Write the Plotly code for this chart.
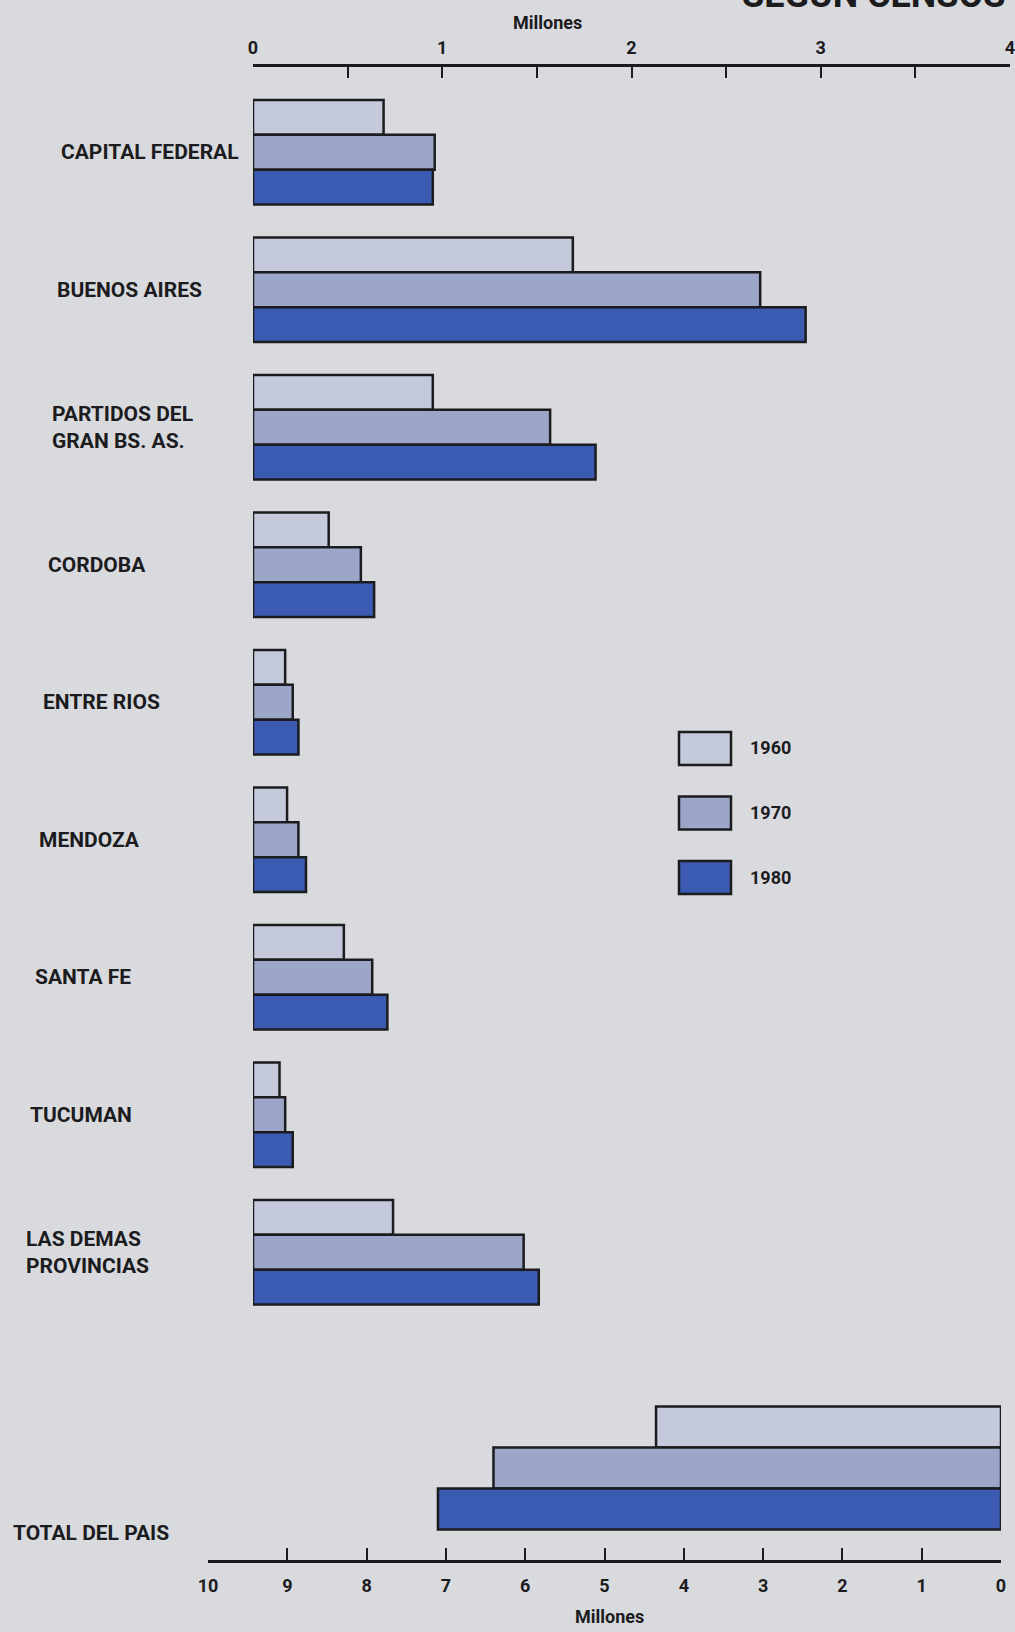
import plotly.graph_objects as go
from plotly.subplots import make_subplots

# --- data (millones) ---
regiones = ["CAPITAL FEDERAL", "BUENOS AIRES", "PARTIDOS DEL<br>GRAN BS. AS.", "CORDOBA",
            "ENTRE RIOS", "MENDOZA", "SANTA FE", "TUCUMAN", "LAS DEMAS<br>PROVINCIAS"]
anios = ["1960", "1970", "1980"]
v1960 = [0.69, 1.69, 0.95, 0.40, 0.17, 0.18, 0.48, 0.14, 0.74]
v1970 = [0.96, 2.68, 1.57, 0.57, 0.21, 0.24, 0.63, 0.17, 1.43]
v1980 = [0.95, 2.92, 1.81, 0.64, 0.24, 0.28, 0.71, 0.21, 1.51]
total_label = "TOTAL DEL PAIS"
total = [4.35, 6.4, 7.1]  # 1960, 1970, 1980

top_ticks = [0, 0.5, 1, 1.5, 2, 2.5, 3, 3.5, 4]
bottom_ticks = [0, 1, 2, 3, 4, 5, 6, 7, 8, 9, 10]

colores = ["#c4c9dc", "#9ba6c8", "#3a5bb1"]
bg = "#d8dade"
ink = "#1c1c1e"
FONT = "Roboto, Liberation Sans, sans-serif"
W, H = 1015, 1632

fig = make_subplots(rows=2, cols=1)
series = [v1960, v1970, v1980]
for anio, vals, col in zip(anios, series, colores):
    fig.add_trace(go.Bar(y=regiones, x=vals, orientation="h", name=anio,
                         marker=dict(color=col, line=dict(color=ink, width=2.5)),
                         showlegend=False, hoverinfo="skip"), row=1, col=1)
for anio, val, col in zip(anios, total, colores):
    fig.add_trace(go.Bar(y=[total_label], x=[val], orientation="h", name=anio,
                         marker=dict(color=col, line=dict(color=ink, width=2.5)),
                         showlegend=False, hoverinfo="skip"), row=2, col=1)

tick_font = dict(family=FONT, size=18, color=ink, weight="bold")
fig.update_layout(
    width=W, height=H, margin=dict(l=0, r=0, t=0, b=0),
    paper_bgcolor=bg, plot_bgcolor=bg, barmode="group", bargap=0.24, bargroupgap=0,
    font=dict(family=FONT, color=ink),
    xaxis=dict(domain=[253 / W, 1010 / W], range=[0, 4], side="top", anchor="y", automargin=False,
               showgrid=False, zeroline=False, showline=True, linecolor=ink, linewidth=2.5,
               ticks="inside", ticklen=11, tickwidth=2, tickcolor=ink, ticklabeloverflow="allow",
               ticklabelstandoff=3,
               tickvals=top_ticks, ticktext=[str(int(t)) if t == int(t) else "" for t in top_ticks],
               tickfont=tick_font),
    yaxis=dict(domain=[1 - 1321 / H, 1 - 67 / H], range=[8.5, -0.62], showticklabels=False,
               automargin=False, showgrid=False, zeroline=False, showline=False, ticks=""),
    xaxis2=dict(domain=[208 / W, 1001 / W], range=[10, 0], side="bottom", anchor="y2", automargin=False,
                showgrid=False, zeroline=False, showline=True, linecolor=ink, linewidth=2.5,
                ticks="inside", ticklen=12, tickwidth=2, tickcolor=ink, ticklabeloverflow="allow",
                ticklabelstandoff=8,
                tickvals=bottom_ticks, tickfont=tick_font),
    yaxis2=dict(domain=[1 - 1560 / H, 1 - 1380 / H], range=[0.568, -0.543], showticklabels=False,
                automargin=False, showgrid=False, zeroline=False, showline=False, ticks=""),
)

label_font = dict(family=FONT, size=21, color=ink, weight="bold")
# etiquetas de regiones (ligeramente escalonadas como en la impresion)
for i, r in enumerate(regiones):
    fig.add_annotation(x=0.058 - i * 0.0043, y=r, xref="paper", yref="y", text=r,
                       showarrow=False, xanchor="left", yanchor="middle", align="left",
                       font=label_font)
fig.add_annotation(x=11 / W, y=1 - 1533 / H, xref="paper", yref="paper", text=total_label,
                   showarrow=False, xanchor="left", yanchor="middle", font=label_font)

# titulos de ejes
fig.add_annotation(x=547 / W, y=1 - 23 / H, xref="paper", yref="paper", text="Millones",
                   showarrow=False, xanchor="center", yanchor="middle",
                   font=dict(family=FONT, size=18, color=ink, weight="bold"))
fig.add_annotation(x=609 / W, y=1 - 1616 / H, xref="paper", yref="paper", text="Millones",
                   showarrow=False, xanchor="center", yanchor="middle",
                   font=dict(family=FONT, size=18, color=ink, weight="bold"))
# titulo cortado arriba a la derecha
fig.add_annotation(x=1007 / W, y=1.0, xref="paper", yref="paper", text="SEGUN CENSOS",
                   showarrow=False, xanchor="right", yanchor="bottom", yshift=-18,
                   font=dict(family=FONT, size=36, color=ink, weight="bold"))

# leyenda manual
for k, (anio, col) in enumerate(zip(anios, colores)):
    y0 = 732 + k * 64.5
    fig.add_shape(type="rect", xref="paper", yref="paper",
                  x0=679 / W, x1=731 / W, y0=1 - (y0 + 33) / H, y1=1 - y0 / H,
                  fillcolor=col, line=dict(color=ink, width=2.5))
    fig.add_annotation(x=748 / W, y=1 - (y0 + 16) / H, xref="paper", yref="paper",
                       text=anio, showarrow=False, xanchor="left", yanchor="middle", font=tick_font)

fig.write_html("out.html", config={"displayModeBar": False},
               post_script="document.body.style.margin='0';")
